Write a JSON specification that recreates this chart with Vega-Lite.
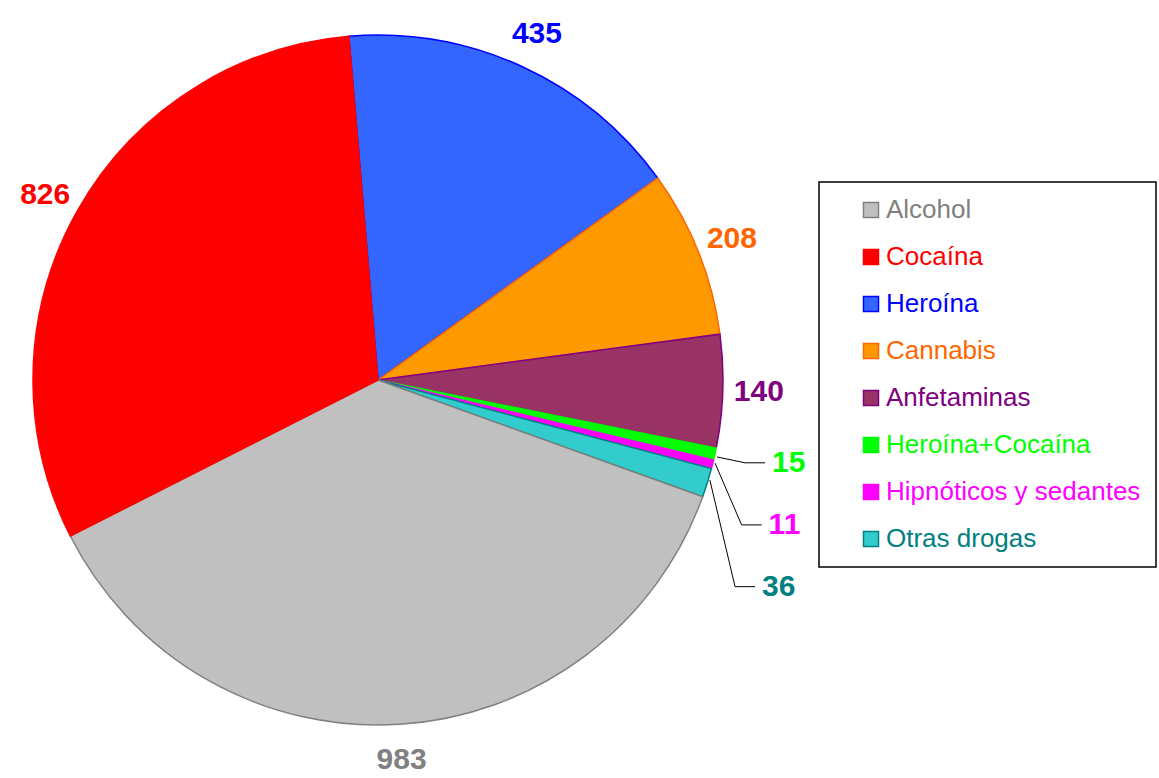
{
  "$schema": "https://vega.github.io/schema/vega-lite/v6.json",
  "width": 756,
  "height": 760,
  "autosize": {"type": "none"},
  "padding": {"left": 0, "top": 0, "right": 403, "bottom": 18},
  "background": "white",
  "config": {"view": {"stroke": null}, "font": "Liberation Sans"},
  "datasets": {
    "slices": [
      {"cat": "Heroína", "value": 435, "orden": 1},
      {"cat": "Cannabis", "value": 208, "orden": 2},
      {"cat": "Anfetaminas", "value": 140, "orden": 3},
      {"cat": "Heroína+Cocaína", "value": 15, "orden": 4},
      {"cat": "Hipnóticos y sedantes", "value": 11, "orden": 5},
      {"cat": "Otras drogas", "value": 36, "orden": 6},
      {"cat": "Alcohol", "value": 983, "orden": 7},
      {"cat": "Cocaína", "value": 826, "orden": 8}
    ],
    "leaders": [
      {"cat": "Heroína+Cocaína", "step": 0, "x": 0.983, "y": 0.223},
      {"cat": "Heroína+Cocaína", "step": 1, "x": 1.064, "y": 0.240},
      {"cat": "Heroína+Cocaína", "step": 2, "x": 1.122, "y": 0.240},
      {"cat": "Hipnóticos y sedantes", "step": 0, "x": 0.977, "y": 0.241},
      {"cat": "Hipnóticos y sedantes", "step": 1, "x": 1.054, "y": 0.420},
      {"cat": "Hipnóticos y sedantes", "step": 2, "x": 1.112, "y": 0.420},
      {"cat": "Otras drogas", "step": 0, "x": 0.962, "y": 0.290},
      {"cat": "Otras drogas", "step": 1, "x": 1.035, "y": 0.599},
      {"cat": "Otras drogas", "step": 2, "x": 1.093, "y": 0.599}
    ]
  },
  "layer": [
    {
      "data": {"name": "slices"},
      "mark": {"type": "arc", "radius": 345, "strokeWidth": 1.5},
      "encoding": {
        "theta": {"field": "value", "type": "quantitative", "stack": true, "scale": {"range": [-0.0846, 6.1986]}},
        "order": {"field": "orden", "type": "quantitative"},
        "fill": {
          "field": "cat", "type": "nominal",
          "scale": {
            "domain": ["Alcohol", "Cocaína", "Heroína", "Cannabis", "Anfetaminas", "Heroína+Cocaína", "Hipnóticos y sedantes", "Otras drogas"],
            "range": ["#c0c0c0", "#ff0000", "#3366ff", "#ff9900", "#993366", "#00ff00", "#ff00ff", "#33cccc"]
          },
          "legend": {
            "orient": "none", "legendX": 819, "legendY": 182, "title": null,
            "padding": 15, "symbolType": "square", "symbolSize": 225, "symbolStrokeWidth": 1.5,
            "symbolOffset": 24, "labelOffset": 2, "labelFont": "Liberation Sans", "labelFontSize": 26,
            "rowPadding": 21, "strokeColor": "black", "fillColor": "white", "labelLimit": 400,
            "encode": {
              "legend": {"update": {"strokeWidth": {"value": 1.5}}},
              "labels": {"update": {"fill": {"signal": "['#808080','#ff0000','#0000ff','#ff6600','#800080','#00ff00','#ff00ff','#008080'][indexof(['Alcohol','Cocaína','Heroína','Cannabis','Anfetaminas','Heroína+Cocaína','Hipnóticos y sedantes','Otras drogas'], datum.label)]"}}}
            }
          }
        },
        "stroke": {
          "field": "cat", "type": "nominal",
          "scale": {
            "domain": ["Alcohol", "Cocaína", "Heroína", "Cannabis", "Anfetaminas", "Heroína+Cocaína", "Hipnóticos y sedantes", "Otras drogas"],
            "range": ["#808080", "#ff0000", "#0000ff", "#ff6600", "#800080", "#00ff00", "#ff00ff", "#008080"]
          }
        }
      }
    },
    {
      "data": {"name": "slices"},
      "mark": {"type": "text", "radius": 381, "fontSize": 30, "fontWeight": "bold", "font": "Liberation Sans", "align": "center", "baseline": "middle"},
      "encoding": {
        "theta": {"field": "value", "type": "quantitative", "stack": true},
        "order": {"field": "orden", "type": "quantitative"},
        "text": {"condition": {"test": "datum.value < 50", "value": ""}, "field": "value", "type": "quantitative"},
        "color": {
          "field": "cat", "type": "nominal",
          "scale": {
            "domain": ["Alcohol", "Cocaína", "Heroína", "Cannabis", "Anfetaminas", "Heroína+Cocaína", "Hipnóticos y sedantes", "Otras drogas"],
            "range": ["#808080", "#ff0000", "#0000ff", "#ff6600", "#800080", "#00ff00", "#ff00ff", "#008080"]
          },
          "legend": null
        }
      }
    },
    {
      "data": {"name": "leaders"},
      "mark": {"type": "line", "stroke": "black", "strokeWidth": 1},
      "encoding": {
        "x": {"field": "x", "type": "quantitative", "scale": {"domain": [-1.0957, 1.0957], "zero": false, "nice": false}, "axis": null},
        "y": {"field": "y", "type": "quantitative", "scale": {"domain": [-1.1014, 1.1014], "reverse": true, "zero": false, "nice": false}, "axis": null},
        "detail": {"field": "cat", "type": "nominal"},
        "order": {"field": "step", "type": "quantitative"}
      }
    },
    {
      "data": {"name": "leaders"},
      "transform": [
        {"filter": "datum.step == 2"},
        {"lookup": "cat", "from": {"data": {"name": "slices"}, "key": "cat", "fields": ["value"]}}
      ],
      "mark": {"type": "text", "align": "left", "baseline": "middle", "dx": 7, "fontSize": 30, "fontWeight": "bold", "font": "Liberation Sans"},
      "encoding": {
        "x": {"field": "x", "type": "quantitative"},
        "y": {"field": "y", "type": "quantitative"},
        "text": {"field": "value", "type": "quantitative"},
        "color": {"field": "cat", "type": "nominal", "legend": null}
      }
    }
  ]
}
